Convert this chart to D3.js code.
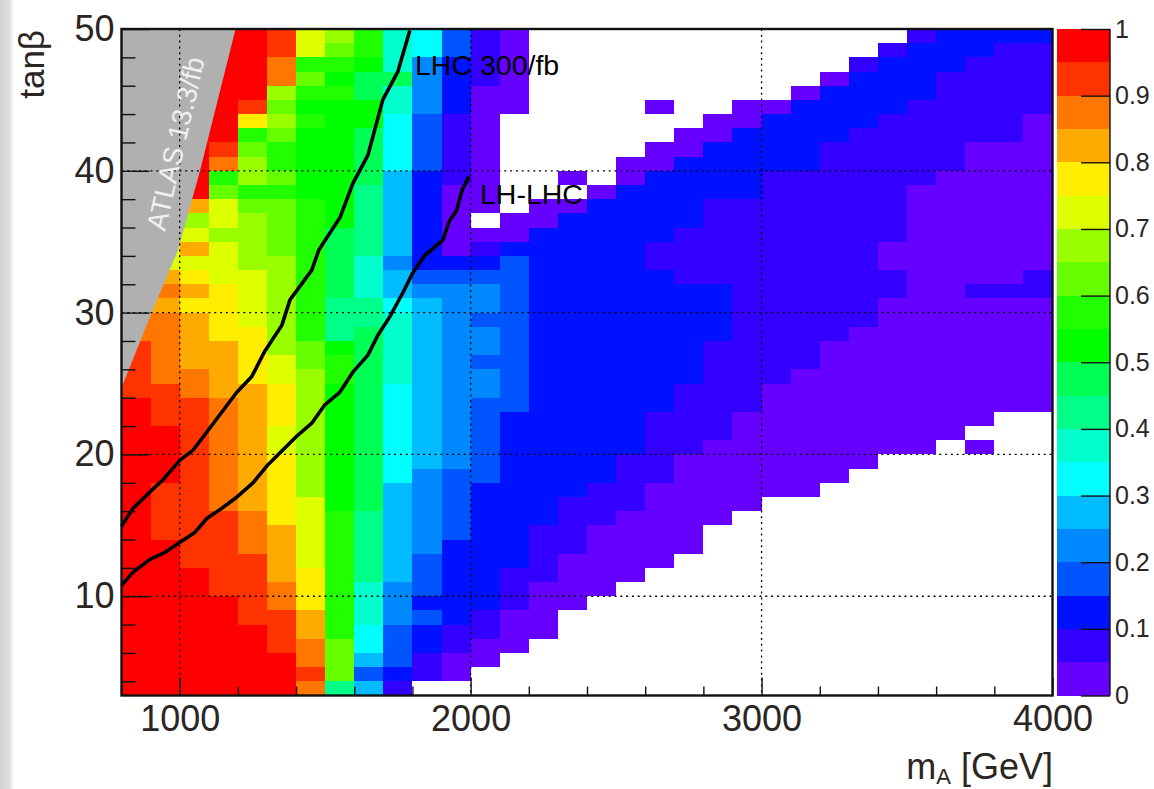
<!DOCTYPE html>
<html>
<head>
<meta charset="utf-8">
<script src="https://cdn.jsdelivr.net/npm/d3@7"></script>
<style>
  html, body { margin: 0; padding: 0; background: #fff; }
  svg { display: block; }
  text { font-family: "Liberation Sans", Arial, sans-serif; }
</style>
</head>
<body>
<svg id="graph"></svg>
<script>
// z is only readable as colour bands (20 steps of 0.05), so the cells hold the band index.
// Each column runs down from tanb 49: [last tanb of the run, band], null = empty bin.
const band800 = [[30, null], [28, 17], [24, 18], [3, 19]];
const band900 = [[35, null], [33, 14], [32, 16], [31, 17], [30, 16], [25, 17], [22, 18], [18, 19], [14, 18], [3, 19]];
const band1000 = [[43, null], [38, 19], [37, 16], [36, 13], [35, 14], [34, 16], [33, 14], [32, 15], [31, 16], [30, 15], [26, 16], [24, 17], [12, 18], [3, 19]];
const band1100 = [[42, 19], [41, 18], [40, 17], [39, 11], [38, 12], [36, 14], [35, 13], [32, 14], [28, 15], [24, 16], [16, 17], [10, 18], [3, 19]];
const band1200 = [[45, 19], [44, 18], [43, 15], [42, 11], [41, 12], [39, 13], [38, 11], [37, 12], [33, 13], [29, 14], [25, 15], [16, 16], [13, 17], [8, 18], [3, 19]];
const band1300 = [[48, 18], [46, 17], [45, 13], [44, 12], [43, 13], [42, 12], [40, 11], [39, 12], [38, 11], [34, 12], [27, 13], [25, 14], [22, 15], [20, 14], [15, 15], [11, 16], [9, 17], [6, 18], [3, 19]];
const band1400 = [[48, 14], [47, 11], [46, 12], [45, 11], [44, 10], [43, 11], [38, 10], [28, 11], [26, 12], [17, 13], [12, 14], [9, 15], [7, 16], [5, 17], [4, 18], [3, 17]];
const band1500 = [[49, 13], [48, 12], [47, 11], [46, 10], [45, 11], [36, 10], [31, 9], [28, 8], [27, 10], [25, 11], [16, 10], [7, 11], [4, 12], [3, 8]];
const band1600 = [[48, 11], [47, 10], [45, 9], [43, 10], [39, 9], [34, 8], [31, 7], [29, 8], [16, 9], [11, 8], [8, 7], [6, 6], [5, 5], [4, 3], [3, 5]];
const band1700 = [[47, 7], [46, 9], [44, 7], [40, 6], [34, 5], [33, 4], [31, 5], [30, 6], [25, 7], [18, 6], [11, 5], [8, 4], [5, 3], [4, 2], [3, 1]];
const band1800 = [[48, 6], [44, 4], [40, 3], [33, 2], [32, 3], [31, 4], [19, 5], [13, 4], [10, 3], [9, 2], [8, 3], [6, 2], [4, 1], [3, null]];
const band1900 = [[48, 3], [44, 2], [39, 1], [34, 0], [33, 2], [32, 3], [19, 4], [14, 3], [8, 2], [6, 1], [4, 0], [3, null]];
const band2000 = [[46, 1], [37, 0], [36, null], [35, 0], [34, 1], [33, 2], [32, 3], [30, 4], [29, 3], [27, 4], [26, 3], [24, 4], [18, 3], [9, 2], [7, 1], [5, 0], [3, null]];
const band2100 = [[44, 0], [37, null], [35, 0], [34, 2], [23, 3], [12, 2], [9, 1], [6, 0], [3, null]];
const band2200 = [[38, null], [36, 0], [15, 2], [11, 1], [7, 0], [3, null]];
const band2300 = [[40, null], [39, 0], [38, null], [37, 0], [17, 2], [13, 1], [9, 0], [3, null]];
const band2400 = [[39, null], [38, 0], [18, 2], [15, 1], [10, 0], [3, null]];
const band2500 = [[41, null], [39, 0], [20, 2], [16, 1], [11, 0], [3, null]];
const band2600 = [[45, null], [44, 0], [42, null], [40, 0], [35, 2], [33, 1], [23, 2], [18, 1], [12, 0], [3, null]];
const band2700 = [[43, null], [41, 0], [36, 2], [32, 1], [25, 2], [20, 1], [13, 0], [3, null]];
const band2800 = [[44, null], [42, 0], [38, 2], [32, 1], [28, 2], [21, 1], [15, 0], [3, null]];
const band2900 = [[45, null], [43, 0], [38, 2], [23, 1], [16, 0], [3, null]];
const band3000 = [[45, null], [44, 0], [40, 2], [25, 1], [17, 0], [3, null]];
const band3100 = [[46, null], [45, 0], [40, 2], [26, 1], [17, 0], [3, null]];
const band3200 = [[47, null], [46, 0], [42, 2], [28, 1], [18, 0], [3, null]];
const band3300 = [[48, null], [47, 1], [43, 2], [29, 1], [19, 0], [3, null]];
const band3400 = [[49, null], [48, 1], [44, 2], [35, 1], [33, 0], [31, 1], [20, 0], [3, null]];
const band3500 = [[49, 1], [45, 2], [39, 1], [20, 0], [3, null]];
const band3600 = [[47, 2], [40, 1], [21, 0], [3, null]];
const band3700 = [[48, 2], [42, 1], [32, 0], [31, 1], [22, 0], [21, null], [20, 0], [3, null]];
const band3800 = [[49, 2], [42, 1], [32, 0], [31, 1], [23, 0], [3, null]];
const band3900 = [[49, 2], [44, 1], [33, 0], [31, 1], [23, 0], [3, null]];

const massBins = d3.range(800, 4000, 100);
const columns = [
  band800, band900, band1000, band1100, band1200, band1300, band1400, band1500,
  band1600, band1700, band1800, band1900, band2000, band2100, band2200, band2300,
  band2400, band2500, band2600, band2700, band2800, band2900, band3000, band3100,
  band3200, band3300, band3400, band3500, band3600, band3700, band3800, band3900,
];

// contours, [mA, tanb]
const lhc300 = [
  [800, 14.93], [840, 16.2], [905, 17.5], [942, 18.2], [1001, 19.6], [1046, 20.3],
  [1094, 21.6], [1149, 23.1], [1197, 24.4], [1248, 25.5], [1293, 27.3], [1351, 29.1],
  [1379, 30.9], [1454, 33.0], [1478, 34.4], [1506, 35.3], [1551, 36.7], [1595, 39.1],
  [1647, 41.1], [1698, 45.0], [1750, 47.0], [1791, 49.9],
];
const lhLhc = [
  [800, 10.76], [840, 11.7], [898, 12.6], [950, 13.1], [1001, 13.8], [1052, 14.5],
  [1094, 15.5], [1145, 16.2], [1197, 17.0], [1252, 18.0], [1300, 19.2], [1344, 20.1],
  [1403, 21.3], [1454, 22.2], [1499, 23.5], [1551, 24.4], [1595, 25.8], [1647, 27.0],
  [1681, 28.4], [1722, 29.7], [1767, 31.4], [1801, 32.8], [1843, 34.05], [1904, 35.1],
  [1928, 36.5], [1952, 37.2], [1970, 38.6], [1994, 39.6],
];
const atlasExcluded = [[800, 50], [1192, 50], [1070, 40], [994, 34.4], [904, 30], [800, 24.7]];

const massTicks = [1000, 2000, 3000, 4000];
const massMinorTicks = d3.range(800, 4001, 200).filter(d => !massTicks.includes(d));
const tanbTicks = [10, 20, 30, 40, 50];
const tanbMinorTicks = d3.range(4, 50, 2).filter(d => !tanbTicks.includes(d));
const zTicks = d3.range(0, 11).map(d => d / 10);

const palette = [
  '#6600ff', '#3300ff', '#0011ff', '#0055ff', '#0088ff', '#00bbff', '#00ffff',
  '#00ffcc', '#00ff88', '#00ff55', '#00ff00', '#22ff00', '#66ff00', '#99ff00',
  '#ddff00', '#ffee00', '#ffaa00', '#ff7700', '#ff3300', '#ff0000',
];

const width = 1154;
const height = 789;
const plot = { left: 121.5, right: 1052.5, top: 29, bottom: 695.5 };
const bar = { left: 1057, right: 1110 };
const textColor = '#2b2523';

const x = d3.scaleLinear().domain([800, 4000]).range([plot.left, plot.right]);
const y = d3.scaleLinear().domain([3, 50]).range([plot.bottom, plot.top]);
const z = d3.scaleLinear().domain([0, 1]).range([plot.bottom, plot.top]);

const svg = d3.select('#graph')
  .attr('width', width)
  .attr('height', height);

// the page edge shadow of the scanned slide
const shade = svg.append('defs').append('linearGradient').attr('id', 'edge');
shade.append('stop').attr('offset', '0%').attr('stop-color', '#d4d4d0');
shade.append('stop').attr('offset', '70%').attr('stop-color', '#dededb');
shade.append('stop').attr('offset', '100%').attr('stop-color', '#f6f6f5');
svg.append('rect')
  .attr('width', 13)
  .attr('height', height)
  .attr('fill', 'url(#edge)');

const cells = [];
columns.forEach((runs, i) => {
  let tanb = 49;
  runs.forEach(([last, band]) => {
    for (; tanb >= last; tanb -= 1) {
      if (band !== null) cells.push({ mass: massBins[i], tanb, band });
    }
  });
});

svg.append('g')
  .attr('shape-rendering', 'crispEdges')
  .selectAll('rect')
  .data(cells)
  .enter().append('rect')
    .attr('x', d => x(d.mass))
    .attr('y', d => y(d.tanb + 1))
    .attr('width', d => x(d.mass + 100) - x(d.mass))
    .attr('height', d => y(d.tanb) - y(d.tanb + 1))
    .attr('fill', d => palette[d.band]);

svg.append('path')
  .attr('d', d3.line().x(d => x(d[0])).y(d => y(d[1]))(atlasExcluded) + 'Z')
  .attr('fill', '#b0b0b0');

// dotted grid
svg.append('g')
  .selectAll('line')
  .data(massTicks.slice(0, 3))
  .enter().append('line')
    .attr('x1', d => x(d))
    .attr('x2', d => x(d))
    .attr('y1', plot.top)
    .attr('y2', plot.bottom)
    .attr('stroke', '#000')
    .attr('stroke-width', 1.3)
    .attr('stroke-dasharray', '2 3.8');
svg.append('g')
  .selectAll('line')
  .data(tanbTicks.slice(0, 4))
  .enter().append('line')
    .attr('x1', plot.left)
    .attr('x2', plot.right)
    .attr('y1', d => y(d))
    .attr('y2', d => y(d))
    .attr('stroke', '#000')
    .attr('stroke-width', 1.3)
    .attr('stroke-dasharray', '2 3.8');

const contour = d3.line().x(d => x(d[0])).y(d => y(d[1]));
svg.selectAll('.contour')
  .data([lhc300, lhLhc])
  .enter().append('path')
    .attr('class', 'contour')
    .attr('d', contour)
    .attr('fill', 'none')
    .attr('stroke', '#000')
    .attr('stroke-width', 3.6)
    .attr('stroke-linejoin', 'round');

// axes
function styleAxis(g, size) {
  g.select('.domain').remove();
  g.selectAll('line').attr('stroke', '#111').attr('stroke-width', 1.4);
  g.selectAll('text')
    .attr('fill', textColor)
    .style('font-size', `${size}px`);
}

svg.append('g')
  .attr('transform', `translate(0,${plot.bottom})`)
  .call(d3.axisBottom(x).tickValues(massTicks).tickSize(-18).tickPadding(10).tickFormat(d3.format('d')))
  .call(styleAxis, 36);
svg.append('g')
  .attr('transform', `translate(0,${plot.bottom})`)
  .call(d3.axisBottom(x).tickValues(massMinorTicks).tickSize(-9).tickFormat(''))
  .call(styleAxis, 36);
svg.append('g')
  .attr('transform', `translate(${plot.left},0)`)
  .call(d3.axisLeft(y).tickValues(tanbTicks).tickSize(-28).tickPadding(7))
  .call(styleAxis, 36);
svg.append('g')
  .attr('transform', `translate(${plot.left},0)`)
  .call(d3.axisLeft(y).tickValues(tanbMinorTicks).tickSize(-14).tickFormat(''))
  .call(styleAxis, 36);

svg.append('rect')
  .attr('x', plot.left)
  .attr('y', plot.top)
  .attr('width', plot.right - plot.left)
  .attr('height', plot.bottom - plot.top)
  .attr('fill', 'none')
  .attr('stroke', '#111')
  .attr('stroke-width', 2.4);

// colour bar
svg.append('g')
  .attr('shape-rendering', 'crispEdges')
  .selectAll('rect')
  .data(palette)
  .enter().append('rect')
    .attr('x', bar.left)
    .attr('y', (d, i) => z((i + 1) / 20))
    .attr('width', bar.right - bar.left)
    .attr('height', (d, i) => z(i / 20) - z((i + 1) / 20))
    .attr('fill', d => d);

const zAxis = svg.append('g')
  .attr('transform', `translate(${bar.right},0)`)
  .call(d3.axisRight(z).tickValues(zTicks).tickSize(-29).tickPadding(5).tickFormat(d3.format('~g')))
  .call(styleAxis, 25);
zAxis.selectAll('text').attr('text-anchor', 'start');
svg.append('line')
  .attr('x1', bar.right)
  .attr('x2', bar.right)
  .attr('y1', plot.top)
  .attr('y2', plot.bottom)
  .attr('stroke', '#111')
  .attr('stroke-width', 1.4);

// labels
svg.append('text')
  .attr('transform', 'translate(44,30) rotate(-90)')
  .attr('text-anchor', 'end')
  .attr('fill', textColor)
  .style('font-size', '35px')
  .text('tanβ');

const xTitle = svg.append('text')
  .attr('x', 1053)
  .attr('y', 779)
  .attr('text-anchor', 'end')
  .attr('fill', textColor)
  .style('font-size', '36px');
xTitle.append('tspan').text('m');
xTitle.append('tspan').attr('dy', 5).style('font-size', '22px').text('A');
xTitle.append('tspan').attr('dy', -5).text(' [GeV]');

svg.append('text')
  .attr('x', 415)
  .attr('y', 75)
  .attr('fill', '#000')
  .style('font-size', '28.5px')
  .text('LHC 300/fb');
svg.append('text')
  .attr('x', 480)
  .attr('y', 204)
  .attr('fill', '#000')
  .style('font-size', '28.5px')
  .text('LH-LHC');
svg.append('text')
  .attr('transform', 'translate(165,232) rotate(-77)')
  .attr('fill', '#f0f0f0')
  .style('font-size', '27.5px')
  .text('ATLAS 13.3/fb');
</script>
</body>
</html>
